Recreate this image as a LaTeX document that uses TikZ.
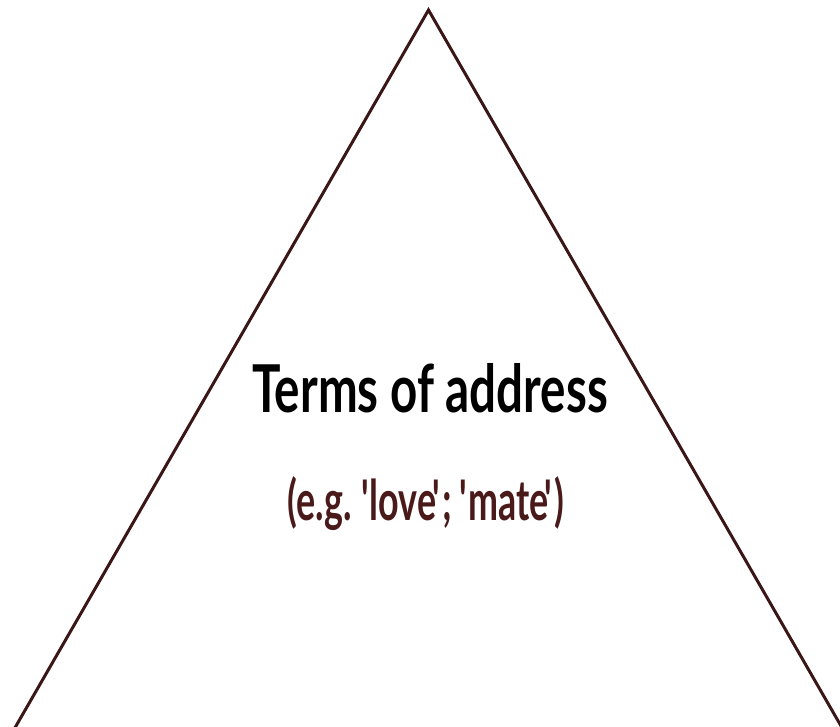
\documentclass[tikz,border=0pt]{standalone}
\usepackage{fontspec}
\setmainfont{Lato}[FakeStretch=0.72]
\newfontfamily\subfont{Lato}[FakeStretch=0.64]
\newcommand\openq{\kern-1.5pt\textquotesingle\kern-3.5pt}
\newcommand\closeq{\kern-3.5pt\textquotesingle\kern-2pt}
\definecolor{tribrown}{HTML}{3A1616}
\definecolor{subbrown}{HTML}{4A1A1A}
\begin{document}
\begin{tikzpicture}[x=1pt,y=1pt,
  edge/.style={draw=tribrown,line width=3pt,line join=miter},
  title/.style={anchor=base,inner sep=0pt,font=\bfseries\fontsize{66}{70}\selectfont,text=black},
  subtitle/.style={anchor=base,inner sep=0pt,font=\subfont\bfseries\fontsize{56}{60}\selectfont,text=subbrown}]
\useasboundingbox (0,0) rectangle (840,726);
\draw[edge] (13.1,-5) -- (428.5,716) -- (843.9,-5);
\node[title] (t) at (430,313) {Terms of address};
\node[subtitle] (s) at (426,206) {(e.g. \openq love\closeq; \openq mate\closeq)};
\end{tikzpicture}
\end{document}
